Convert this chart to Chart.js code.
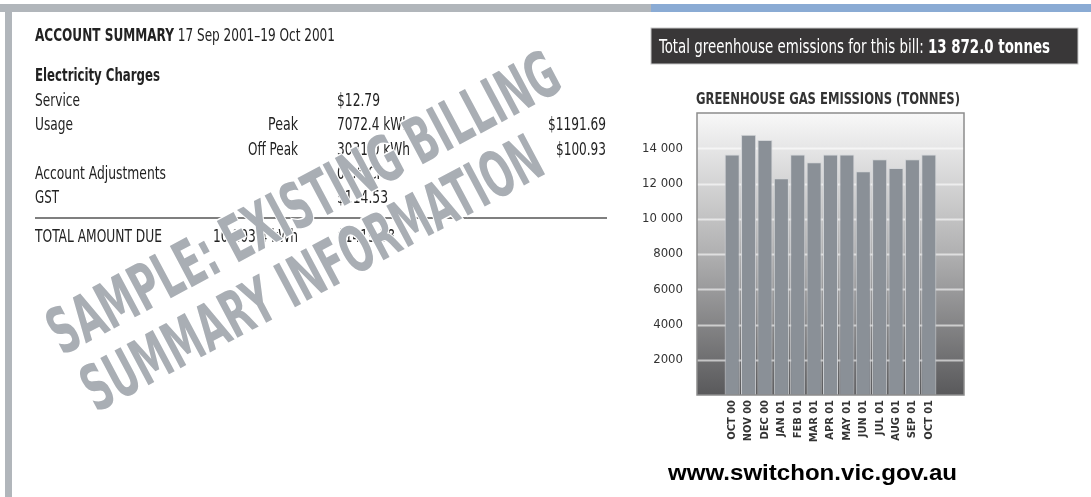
<!DOCTYPE html>
<html>
<head>
<meta charset="utf-8">
<script src="https://cdn.jsdelivr.net/npm/chart.js@4.4.1/dist/chart.umd.min.js"></script>
<style>
  html, body { margin: 0; padding: 0; background: #fff; }
  #page { position: relative; width: 1091px; height: 497px; overflow: hidden; }
  #chartBox { position: absolute; left: 630px; top: 80px; width: 400px; height: 370px; }
  #overlay { position: absolute; left: 0; top: 0; pointer-events: none; }
  .n { font-family: 'Liberation Sans Narrow', 'DejaVu Sans Condensed', 'Arial Narrow', sans-serif; font-stretch: condensed; }
</style>
</head>
<body>
<div id="page">
  <div id="chartBox"><canvas id="grafico"></canvas></div>

  <svg id="overlay" width="1091" height="497" xmlns="http://www.w3.org/2000/svg">
    <!-- marcos superiores -->
    <rect x="0" y="4" width="651" height="8" fill="#b1b6bb"/>
    <rect x="5" y="4" width="7" height="493" fill="#b1b6bb"/>
    <rect x="651" y="4" width="440" height="8" fill="#8aabd4"/>

    <!-- resumen de cuenta -->
    <g class="n" fill="#222" font-size="17">
      <text x="35" y="41" textLength="300" lengthAdjust="spacingAndGlyphs"><tspan font-weight="bold">ACCOUNT SUMMARY</tspan> 17 Sep 2001–19 Oct 2001</text>
      <text x="35" y="81" font-weight="bold" font-size="18" textLength="125" lengthAdjust="spacingAndGlyphs">Electricity Charges</text>
      <text x="35" y="106" textLength="45" lengthAdjust="spacingAndGlyphs">Service</text>
      <text x="337" y="106" textLength="43" lengthAdjust="spacingAndGlyphs">$12.79</text>
      <text x="35" y="130" textLength="38" lengthAdjust="spacingAndGlyphs">Usage</text>
      <text x="298" y="130" text-anchor="end" textLength="30" lengthAdjust="spacingAndGlyphs">Peak</text>
      <text x="337" y="130" textLength="73" lengthAdjust="spacingAndGlyphs">7072.4 kWh</text>
      <text x="606" y="130" text-anchor="end" textLength="58" lengthAdjust="spacingAndGlyphs">$1191.69</text>
      <text x="298" y="155" text-anchor="end" textLength="50" lengthAdjust="spacingAndGlyphs">Off Peak</text>
      <text x="337" y="155" textLength="73" lengthAdjust="spacingAndGlyphs">3031.0 kWh</text>
      <text x="606" y="155" text-anchor="end" textLength="50" lengthAdjust="spacingAndGlyphs">$100.93</text>
      <text x="35" y="179" textLength="131" lengthAdjust="spacingAndGlyphs">Account Adjustments</text>
      <text x="337" y="179" textLength="48" lengthAdjust="spacingAndGlyphs">0.36 CR</text>
      <text x="35" y="203" textLength="24" lengthAdjust="spacingAndGlyphs">GST</text>
      <text x="337" y="203" textLength="51" lengthAdjust="spacingAndGlyphs">$114.53</text>
      <text x="35" y="242" textLength="127" lengthAdjust="spacingAndGlyphs">TOTAL AMOUNT DUE</text>
      <text x="213" y="242" textLength="85" lengthAdjust="spacingAndGlyphs">10 103.4 kWh</text>
      <text x="337" y="242" textLength="58" lengthAdjust="spacingAndGlyphs">$1419.58</text>
    </g>
    <line x1="35" y1="218" x2="607" y2="218" stroke="#555" stroke-width="1.5"/>

    <!-- marca de agua -->
    <g class="n" font-weight="bold" font-size="64" fill="#a9aeb4" stroke="#fff" stroke-width="3" paint-order="stroke">
      <text x="62" y="356" transform="rotate(-28 62 356)" textLength="570" lengthAdjust="spacingAndGlyphs">SAMPLE: EXISTING BILLING</text>
      <text x="96" y="413" transform="rotate(-28 96 413)" textLength="512" lengthAdjust="spacingAndGlyphs">SUMMARY INFORMATION</text>
    </g>

    <!-- banda de total -->
    <rect x="651" y="28" width="427" height="36" fill="#393738" stroke="#c8c8c8" stroke-width="1"/>
    <text class="n" x="659" y="53" font-size="20" fill="#fff" textLength="391" lengthAdjust="spacingAndGlyphs">Total greenhouse emissions for this bill: <tspan font-weight="bold">13 872.0 tonnes</tspan></text>

    <!-- titulo del grafico -->
    <text class="n" x="696" y="104" font-size="16" font-weight="bold" fill="#333" textLength="264" lengthAdjust="spacingAndGlyphs">GREENHOUSE GAS EMISSIONS (TONNES)</text>

    <!-- url -->
    <text x="668" y="480" font-family="'Liberation Sans', Arial, sans-serif" font-weight="bold" font-size="22" fill="#000" textLength="289" lengthAdjust="spacingAndGlyphs">www.switchon.vic.gov.au</text>
  </svg>
</div>

<script>
// Datos
const meses = ["OCT 00", "NOV 00", "DEC 00", "JAN 01", "FEB 01", "MAR 01", "APR 01", "MAY 01", "JUN 01", "JUL 01", "AUG 01", "SEP 01", "OCT 01"];
const emisiones = [13650, 14770, 14470, 12300, 13650, 13200, 13650, 13650, 12690, 13370, 12880, 13370, 13650];
const ticksY = [2000, 4000, 6000, 8000, 10000, 12000, 14000];
const minY = 0;
const maxY = 16000;

const fuente = "'Liberation Sans Narrow', 'DejaVu Sans Condensed', 'Arial Narrow', sans-serif";

// fondo degradado con lineas blancas, un poco mas ancho que las barras
const fondo = {
  id: "fondo",
  beforeDatasetsDraw(chart) {
    const { ctx, chartArea, scales } = chart;
    const y = scales.y;
    const izq = chartArea.left - 27;
    const der = chartArea.right + 27;
    const arriba = y.getPixelForValue(maxY);
    const abajo = y.getPixelForValue(minY);
    const grad = ctx.createLinearGradient(0, arriba, 0, abajo);
    grad.addColorStop(0, "#f8f8f8");
    grad.addColorStop(0.5, "#b0b0b1");
    grad.addColorStop(1, "#59595b");
    ctx.save();
    ctx.fillStyle = grad;
    ctx.fillRect(izq, arriba, der - izq, abajo - arriba);
    ctx.strokeStyle = "rgba(255,255,255,0.6)";
    ctx.lineWidth = 2;
    ticksY.forEach((v) => {
      const py = Math.round(y.getPixelForValue(v)) + 0.5;
      ctx.beginPath();
      ctx.moveTo(izq, py);
      ctx.lineTo(der, py);
      ctx.stroke();
    });
    ctx.restore();
  },
  afterDraw(chart) {
    const { ctx, chartArea, scales } = chart;
    const y = scales.y;
    const izq = chartArea.left - 27;
    const der = chartArea.right + 27;
    const arriba = y.getPixelForValue(maxY);
    const abajo = y.getPixelForValue(minY);
    ctx.save();
    ctx.strokeStyle = "#8c8c8c";
    ctx.lineWidth = 1.5;
    ctx.strokeRect(izq, arriba, der - izq, abajo - arriba);
    ctx.restore();
  },
};

const ctx = document.getElementById("grafico").getContext("2d");

const chart = new Chart(ctx, {
  type: "bar",
  data: {
    labels: meses,
    datasets: [
      {
        label: "Greenhouse gas emissions (tonnes)",
        data: emisiones,
        backgroundColor: "#8a9097",
        borderColor: "#d4d6d9",
        borderWidth: 1,
        barPercentage: 0.92,
        categoryPercentage: 1,
      },
    ],
  },
  options: {
    responsive: true,
    maintainAspectRatio: false,
    animation: false,
    layout: {
      padding: { left: 0, right: 93, top: 33, bottom: 0 },
    },
    plugins: {
      legend: { display: false },
      tooltip: { enabled: false },
    },
    scales: {
      x: {
        afterFit(scale) {
          scale.height = 55;
        },
        ticks: {
          color: "#333",
          autoSkip: false,
          minRotation: 90,
          maxRotation: 90,
          padding: 5,
          font: { family: fuente, size: 11, weight: "bold" },
        },
        grid: { display: false, drawTicks: false },
        border: { display: false },
      },
      y: {
        min: minY,
        max: maxY,
        afterFit(scale) {
          scale.width = 94;
          // el padding de las etiquetas no debe empujar el area del grafico
          scale.paddingTop = 0;
          scale.paddingBottom = 0;
        },
        afterBuildTicks(scale) {
          scale.ticks = ticksY.map((v) => ({ value: v }));
        },
        ticks: {
          color: "#333",
          padding: 41,
          font: { family: fuente, size: 13 },
          callback: (v) => (v >= 10000 ? Math.floor(v / 1000) + " " + String(v % 1000).padStart(3, "0") : String(v)),
        },
        grid: { display: false, drawTicks: false },
        border: { display: false },
      },
    },
  },
  plugins: [fondo],
});
</script>
</body>
</html>
